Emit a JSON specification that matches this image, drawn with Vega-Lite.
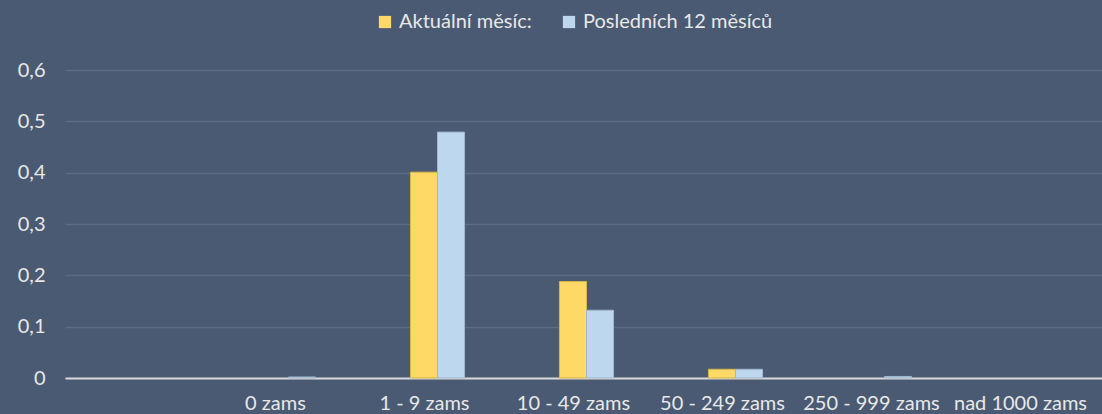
{
  "$schema": "https://vega.github.io/schema/vega-lite/v6.json",
  "width": 1037,
  "height": 308,
  "autosize": {"type": "none"},
  "padding": {"left": 65, "top": 70, "right": 0, "bottom": 36},
  "background": "#4a5a72",
  "config": {
    "view": {"stroke": null},
    "font": "Lato",
    "axis": {"labelFont": "Lato", "labelColor": "#e8e8e8", "labelFontSize": 20},
    "legend": {"labelFont": "Lato", "labelColor": "#e8e8e8", "labelFontSize": 20}
  },
  "data": {
    "values": [
      {"kat": " ", "serie": "Aktuální měsíc:", "hodnota": 0},
      {"kat": " ", "serie": "Posledních 12 měsíců", "hodnota": 0},
      {"kat": "0 zams", "serie": "Aktuální měsíc:", "hodnota": 0},
      {"kat": "0 zams", "serie": "Posledních 12 měsíců", "hodnota": 0.002},
      {"kat": "1 - 9 zams", "serie": "Aktuální měsíc:", "hodnota": 0.401},
      {"kat": "1 - 9 zams", "serie": "Posledních 12 měsíců", "hodnota": 0.479},
      {"kat": "10 - 49 zams", "serie": "Aktuální měsíc:", "hodnota": 0.188},
      {"kat": "10 - 49 zams", "serie": "Posledních 12 měsíců", "hodnota": 0.132},
      {"kat": "50 - 249 zams", "serie": "Aktuální měsíc:", "hodnota": 0.017},
      {"kat": "50 - 249 zams", "serie": "Posledních 12 měsíců", "hodnota": 0.017},
      {"kat": "250 - 999 zams", "serie": "Aktuální měsíc:", "hodnota": 0},
      {"kat": "250 - 999 zams", "serie": "Posledních 12 měsíců", "hodnota": 0.003},
      {"kat": "nad 1000 zams", "serie": "Aktuální měsíc:", "hodnota": 0},
      {"kat": "nad 1000 zams", "serie": "Posledních 12 měsíců", "hodnota": 0}
    ]
  },
  "mark": {"type": "bar", "strokeWidth": 1},
  "encoding": {
    "x": {
      "field": "kat",
      "type": "nominal",
      "sort": [" ", "0 zams", "1 - 9 zams", "10 - 49 zams", "50 - 249 zams", "250 - 999 zams", "nad 1000 zams"],
      "scale": {"paddingInner": 0.637, "paddingOuter": 0.3185, "range": [0, 1043]},
      "axis": {
        "title": null,
        "labelAngle": 0,
        "ticks": false,
        "domainColor": "#d9d9d9",
        "domainWidth": 2,
        "labelPadding": 15,
        "labelOffset": -13,
        "labelOverlap": false,
        "labelBound": false
      }
    },
    "xOffset": {
      "field": "serie",
      "type": "nominal",
      "sort": ["Aktuální měsíc:", "Posledních 12 měsíců"]
    },
    "y": {
      "field": "hodnota",
      "type": "quantitative",
      "scale": {"domain": [0, 0.6], "nice": false},
      "axis": {
        "title": null,
        "values": [0, 0.1, 0.2, 0.3, 0.4, 0.5, 0.6],
        "domain": false,
        "ticks": false,
        "labelPadding": 20,
        "gridColor": "#5b6c86",
        "gridWidth": 1.5,
        "labelExpr": "datum.value == 0 ? '0' : replace(format(datum.value, '.1f'), '.', ',')"
      }
    },
    "color": {
      "field": "serie",
      "type": "nominal",
      "sort": ["Aktuální měsíc:", "Posledních 12 měsíců"],
      "scale": {"range": ["#ffd966", "#bdd7ee"]},
      "legend": {
        "title": null,
        "orient": "none",
        "direction": "horizontal",
        "legendX": 310,
        "legendY": -58,
        "symbolType": "square",
        "symbolSize": 150,
        "symbolStrokeWidth": 0,
        "symbolOpacity": 1,
        "columnPadding": 27,
        "labelOffset": 4,
        "labelLimit": 400
      }
    },
    "stroke": {
      "field": "serie",
      "type": "nominal",
      "sort": ["Aktuální měsíc:", "Posledních 12 měsíců"],
      "scale": {"range": ["#d9b44a", "#9fb6cc"]},
      "legend": null
    },
    "strokeOpacity": {
      "condition": {"test": "datum.hodnota == 0", "value": 0},
      "value": 1
    }
  }
}
